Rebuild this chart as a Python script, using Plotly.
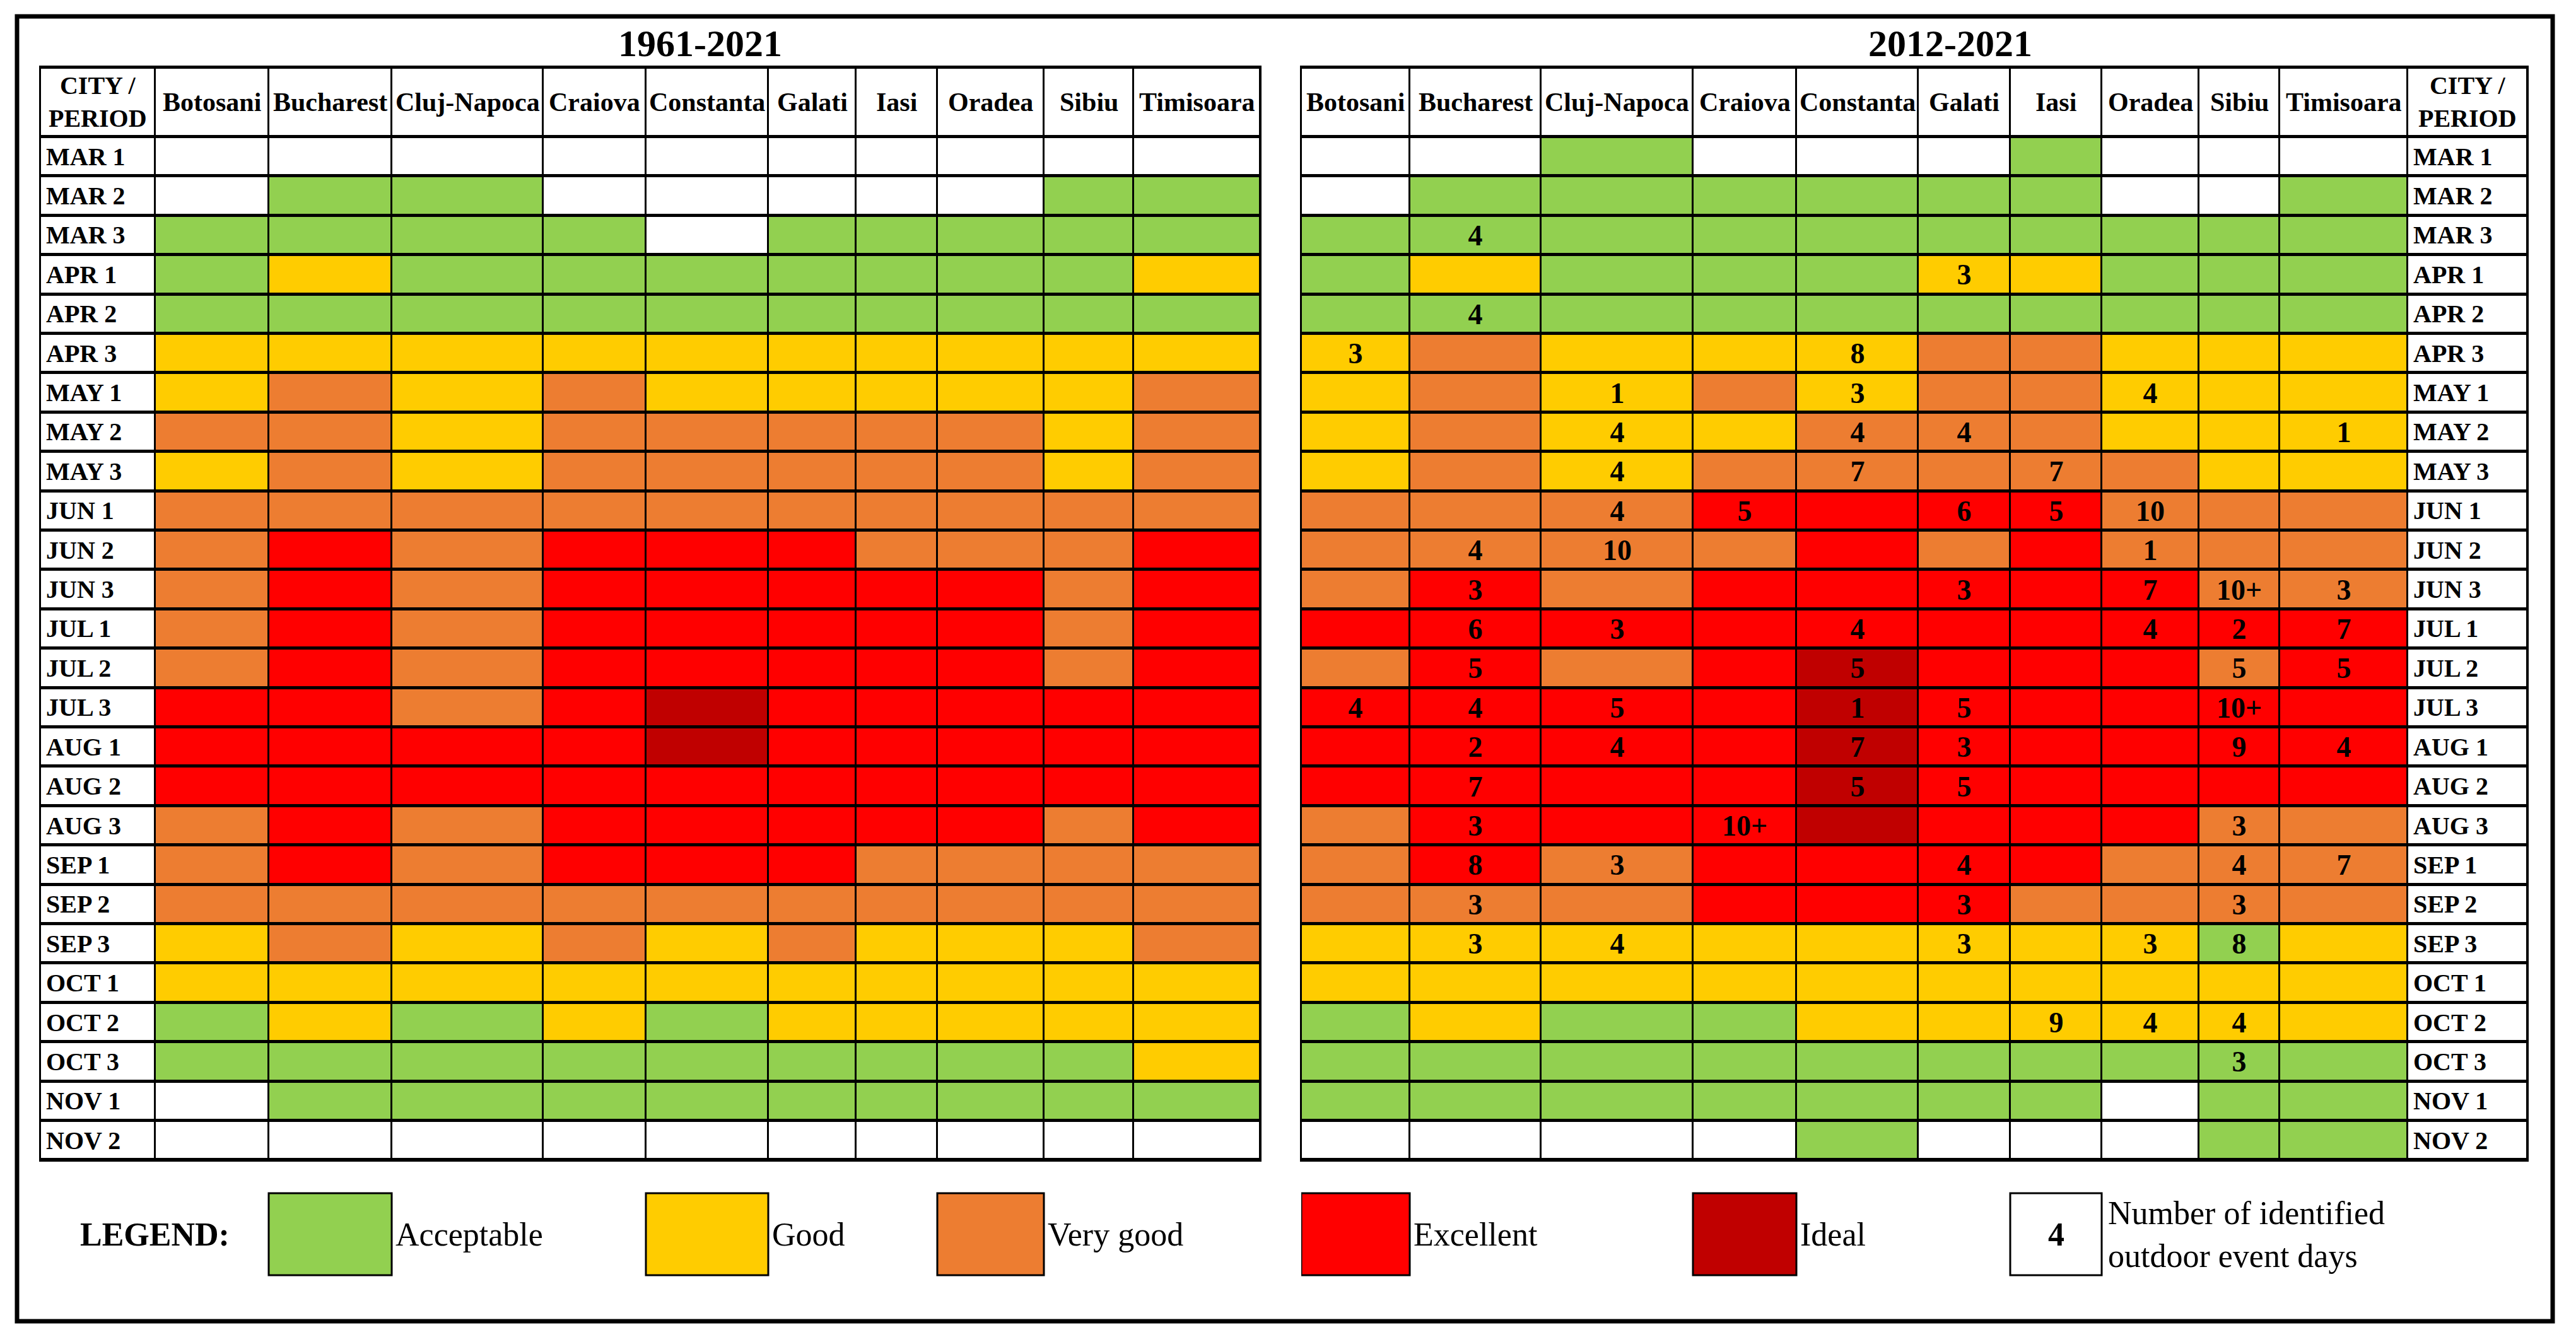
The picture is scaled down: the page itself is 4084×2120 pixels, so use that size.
import plotly.graph_objects as go

# ---------------- data ----------------
cities = ["Botosani", "Bucharest", "Cluj-Napoca", "Craiova", "Constanta",
          "Galati", "Iasi", "Oradea", "Sibiu", "Timisoara"]
periods = ["MAR 1", "MAR 2", "MAR 3", "APR 1", "APR 2", "APR 3",
           "MAY 1", "MAY 2", "MAY 3", "JUN 1", "JUN 2", "JUN 3",
           "JUL 1", "JUL 2", "JUL 3", "AUG 1", "AUG 2", "AUG 3",
           "SEP 1", "SEP 2", "SEP 3", "OCT 1", "OCT 2", "OCT 3",
           "NOV 1", "NOV 2"]
# rating letters: "." none, A acceptable, G good, V very good, E excellent, I ideal
level_codes = [".", "A", "G", "V", "E", "I"]
level_names = ["", "Acceptable", "Good", "Very good", "Excellent", "Ideal"]
level_colors = ["#FFFFFF", "#92D050", "#FFCC00", "#ED7D31", "#FF0000", "#C00000"]

rating_1961_2021 = [
    "..........",  # MAR 1
    ".AA.....AA",  # MAR 2
    "AAAA.AAAAA",  # MAR 3
    "AGAAAAAAAG",  # APR 1
    "AAAAAAAAAA",  # APR 2
    "GGGGGGGGGG",  # APR 3
    "GVGVGGGGGV",  # MAY 1
    "VVGVVVVVGV",  # MAY 2
    "GVGVVVVVGV",  # MAY 3
    "VVVVVVVVVV",  # JUN 1
    "VEVEEEVVVE",  # JUN 2
    "VEVEEEEEVE",  # JUN 3
    "VEVEEEEEVE",  # JUL 1
    "VEVEEEEEVE",  # JUL 2
    "EEVEIEEEEE",  # JUL 3
    "EEEEIEEEEE",  # AUG 1
    "EEEEEEEEEE",  # AUG 2
    "VEVEEEEEVE",  # AUG 3
    "VEVEEEVVVV",  # SEP 1
    "VVVVVVVVVV",  # SEP 2
    "GVGVGVGGGV",  # SEP 3
    "GGGGGGGGGG",  # OCT 1
    "AGAGAGGGGG",  # OCT 2
    "AAAAAAAAAG",  # OCT 3
    ".AAAAAAAAA",  # NOV 1
    "..........",  # NOV 2
]

rating_2012_2021 = [
    "..A...A...",  # MAR 1
    ".AAAAAA..A",  # MAR 2
    "AAAAAAAAAA",  # MAR 3
    "AGAAAGGAAA",  # APR 1
    "AAAAAAAAAA",  # APR 2
    "GVGGGVVGGG",  # APR 3
    "GVGVGVVGGG",  # MAY 1
    "GVGGVVVGGG",  # MAY 2
    "GVGVVVVVGG",  # MAY 3
    "VVVEEEEVVV",  # JUN 1
    "VVVVEVEVVV",  # JUN 2
    "VEVEEEEEVV",  # JUN 3
    "EEEEEEEEEE",  # JUL 1
    "VEVEIEEEVE",  # JUL 2
    "EEEEIEEEEE",  # JUL 3
    "EEEEIEEEEE",  # AUG 1
    "EEEEIEEEEE",  # AUG 2
    "VEEEIEEEVV",  # AUG 3
    "VEVEEEEVVV",  # SEP 1
    "VVVEEEVVVV",  # SEP 2
    "GGGGGGGGAG",  # SEP 3
    "GGGGGGGGGG",  # OCT 1
    "AGAAGGGGGG",  # OCT 2
    "AAAAAAAAAA",  # OCT 3
    "AAAAAAA.AA",  # NOV 1
    "....A...AA",  # NOV 2
]

# number of identified outdoor event days ("-" = none)
event_days_2012_2021 = [
    "-  -  -   -   -  -  -  -   -   -",   # MAR 1
    "-  -  -   -   -  -  -  -   -   -",   # MAR 2
    "-  4  -   -   -  -  -  -   -   -",   # MAR 3
    "-  -  -   -   -  3  -  -   -   -",   # APR 1
    "-  4  -   -   -  -  -  -   -   -",   # APR 2
    "3  -  -   -   8  -  -  -   -   -",   # APR 3
    "-  -  1   -   3  -  -  4   -   -",   # MAY 1
    "-  -  4   -   4  4  -  -   -   1",   # MAY 2
    "-  -  4   -   7  -  7  -   -   -",   # MAY 3
    "-  -  4   5   -  6  5  10  -   -",   # JUN 1
    "-  4  10  -   -  -  -  1   -   -",   # JUN 2
    "-  3  -   -   -  3  -  7   10+ 3",   # JUN 3
    "-  6  3   -   4  -  -  4   2   7",   # JUL 1
    "-  5  -   -   5  -  -  -   5   5",   # JUL 2
    "4  4  5   -   1  5  -  -   10+ -",   # JUL 3
    "-  2  4   -   7  3  -  -   9   4",   # AUG 1
    "-  7  -   -   5  5  -  -   -   -",   # AUG 2
    "-  3  -   10+ -  -  -  -   3   -",   # AUG 3
    "-  8  3   -   -  4  -  -   4   7",   # SEP 1
    "-  3  -   -   -  3  -  -   3   -",   # SEP 2
    "-  3  4   -   -  3  -  3   8   -",   # SEP 3
    "-  -  -   -   -  -  -  -   -   -",   # OCT 1
    "-  -  -   -   -  -  9  4   4   -",   # OCT 2
    "-  -  -   -   -  -  -  -   3   -",   # OCT 3
    "-  -  -   -   -  -  -  -   -   -",   # NOV 1
    "-  -  -   -   -  -  -  -   -   -",   # NOV 2
]

titles = ["1961-2021", "2012-2021"]
corner_label = "CITY /<br>PERIOD"
legend_title = "LEGEND:"
legend_days_label = "Number of identified<br>outdoor event days"
legend_days_example = "4"

# ---------------- layout constants ----------------
FIG_W, FIG_H = 4084, 2120
FONT = "Liberation Serif"
TABLE_TOP = 107
HEADER_H = 110
ROW_H = 62.4
LEFT_X0 = 64
LEFT_WIDTHS = [182, 180, 195, 240, 163, 194, 139, 129, 169, 142, 201]   # label column first
RIGHT_X0 = 2063
RIGHT_WIDTHS = [172, 208, 241, 164, 193, 146, 145, 154, 128, 203, 190]  # label column last
TITLE_X = [1110, 3092]
TITLE_Y = 69
LEG_Y0, LEG_Y1 = 1892, 2022
LEG_TEXT_Y = 1957


def edges(widths):
    out = [0]
    for w in widths:
        out.append(out[-1] + w)
    return out


def py(px):  # pixel row -> paper fraction
    return 1 - px / FIG_H


y_edges = [0, HEADER_H] + [HEADER_H + ROW_H * (i + 1) for i in range(len(periods))]
TABLE_H = y_edges[-1]
row_centers = [(y_edges[i + 1] + y_edges[i + 2]) / 2 for i in range(len(periods))]


def build(ratings, days, label_first):
    n = len(cities)
    z = [[0] * (n + 1)]
    t = [[""] * (n + 1)]
    for i in range(len(periods)):
        codes = [level_codes.index(c) for c in ratings[i]]
        if days is None:
            txt = [""] * n
        else:
            txt = ["" if tok == "-" else tok for tok in days[i].split()]
        if label_first:
            z.append([0] + codes)
            t.append([""] + txt)
        else:
            z.append(codes + [0])
            t.append(txt + [""])
    return z, t


# discrete colorscale for codes 0..5
cs = []
for k, c in enumerate(level_colors):
    lo = max(0, (k - 0.5) / 5)
    hi = min(1, (k + 0.5) / 5)
    cs.append([lo, c])
    cs.append([hi, c])

fig = go.Figure()
annotations = []
shapes = []

tables = [
    dict(ratings=rating_1961_2021, days=None, label_first=True, x0=LEFT_X0,
         widths=LEFT_WIDTHS, xa="x", ya="y", title=titles[0], title_x=TITLE_X[0]),
    dict(ratings=rating_2012_2021, days=event_days_2012_2021, label_first=False,
         x0=RIGHT_X0, widths=RIGHT_WIDTHS, xa="x2", ya="y2", title=titles[1],
         title_x=TITLE_X[1]),
]

layout_axes = {}
for ti, tb in enumerate(tables):
    xe = edges(tb["widths"])
    z, t = build(tb["ratings"], tb["days"], tb["label_first"])
    fig.add_trace(go.Heatmap(
        z=z, x=xe, y=y_edges, text=t, texttemplate="<b>%{text}</b>",
        textfont=dict(family=FONT, size=46, color="black"),
        colorscale=cs, zmin=0, zmax=5, showscale=False,
        xgap=3, ygap=5, xaxis=tb["xa"], yaxis=tb["ya"], hoverinfo="skip"))

    total_w = xe[-1]
    sfx = "" if ti == 0 else "2"
    layout_axes["xaxis" + sfx] = dict(
        domain=[tb["x0"] / FIG_W, (tb["x0"] + total_w) / FIG_W], range=[0, total_w],
        anchor="y" + sfx, showline=True, mirror=True, linewidth=3, linecolor="black",
        showgrid=False, zeroline=False, showticklabels=False, ticks="", fixedrange=True)
    layout_axes["yaxis" + sfx] = dict(
        domain=[py(TABLE_TOP + TABLE_H), py(TABLE_TOP)], range=[TABLE_H, 0],
        anchor="x" + sfx, showline=True, mirror=True, linewidth=2, linecolor="black",
        showgrid=False, zeroline=False, showticklabels=False, ticks="", fixedrange=True)

    if tb["label_first"]:
        label_col, city_cols = 0, list(range(1, len(cities) + 1))
    else:
        label_col, city_cols = len(cities), list(range(len(cities)))

    # header names
    for ci, name in zip(city_cols, cities):
        annotations.append(dict(
            x=(xe[ci] + xe[ci + 1]) / 2, y=HEADER_H / 2, xref=tb["xa"], yref=tb["ya"],
            text="<b>" + name + "</b>", showarrow=False, xanchor="center", yanchor="middle",
            font=dict(family=FONT, size=42, color="black")))
    annotations.append(dict(
        x=(xe[label_col] + xe[label_col + 1]) / 2, y=HEADER_H / 2, xref=tb["xa"], yref=tb["ya"],
        text="<b>" + corner_label + "</b>", showarrow=False, xanchor="center",
        yanchor="middle", align="center", font=dict(family=FONT, size=40, color="black")))
    # period labels
    for p, yc in zip(periods, row_centers):
        annotations.append(dict(
            x=xe[label_col] + 7, y=yc, xref=tb["xa"], yref=tb["ya"],
            text="<b>" + p + "</b>", showarrow=False, xanchor="left", yanchor="middle",
            font=dict(family=FONT, size=40, color="black")))
    # title
    annotations.append(dict(
        x=tb["title_x"] - tb["x0"], y=py(TITLE_Y), xref=tb["xa"], yref="paper",
        text="<b>" + tb["title"] + "</b>", showarrow=False, xanchor="center",
        yanchor="middle", font=dict(family=FONT, size=60, color="black")))

# ---------------- legend ----------------
left_e = edges(LEFT_WIDTHS)
right_e = edges(RIGHT_WIDTHS)
# (level index, axis, column edges, column index)
legend_items = [
    (1, "x", left_e, 2),    # Bucharest column (left)
    (2, "x", left_e, 5),    # Constanta column (left)
    (3, "x", left_e, 8),    # Oradea column (left)
    (4, "x2", right_e, 0),  # Botosani column (right)
    (5, "x2", right_e, 3),  # Craiova column (right)
]
annotations.append(dict(
    x=125 - LEFT_X0, y=py(LEG_TEXT_Y), xref="x", yref="paper", text="<b>" + legend_title + "</b>",
    showarrow=False, xanchor="left", yanchor="middle",
    font=dict(family=FONT, size=52, color="black")))
for lvl, xa, e, ci in legend_items:
    shapes.append(dict(type="rect", xref=xa, yref="paper", x0=e[ci], x1=e[ci + 1],
                       y0=py(LEG_Y1), y1=py(LEG_Y0), fillcolor=level_colors[lvl],
                       line=dict(color="black", width=3)))
    annotations.append(dict(
        x=e[ci + 1] + 4, y=py(LEG_TEXT_Y), xref=xa, yref="paper", text=level_names[lvl],
        showarrow=False, xanchor="left", yanchor="middle",
        font=dict(family=FONT, size=52, color="black")))
# example number box
ci = 6  # Iasi column (right)
shapes.append(dict(type="rect", xref="x2", yref="paper", x0=right_e[ci], x1=right_e[ci + 1],
                   y0=py(LEG_Y1), y1=py(LEG_Y0), fillcolor="white",
                   line=dict(color="black", width=3)))
annotations.append(dict(
    x=(right_e[ci] + right_e[ci + 1]) / 2, y=py(LEG_TEXT_Y), xref="x2", yref="paper",
    text="<b>" + legend_days_example + "</b>", showarrow=False, xanchor="center",
    yanchor="middle", font=dict(family=FONT, size=52, color="black")))
annotations.append(dict(
    x=right_e[ci + 1] + 8, y=py(LEG_TEXT_Y), xref="x2", yref="paper",
    text=legend_days_label, showarrow=False, xanchor="left", yanchor="middle", align="left",
    font=dict(family=FONT, size=52, color="black")))

# outer frame
shapes.append(dict(type="rect", xref="paper", yref="paper",
                   x0=27 / FIG_W, x1=4047 / FIG_W, y0=py(2095), y1=py(26),
                   line=dict(color="black", width=7), fillcolor="rgba(0,0,0,0)"))

fig.update_layout(
    width=FIG_W, height=FIG_H, margin=dict(l=0, r=0, t=0, b=0),
    paper_bgcolor="white", plot_bgcolor="black", showlegend=False,
    annotations=annotations, shapes=shapes, **layout_axes)

fig.write_html("out.html", config={"displayModeBar": False},
               post_script="document.body.style.margin='0';document.body.style.overflow='hidden';")
